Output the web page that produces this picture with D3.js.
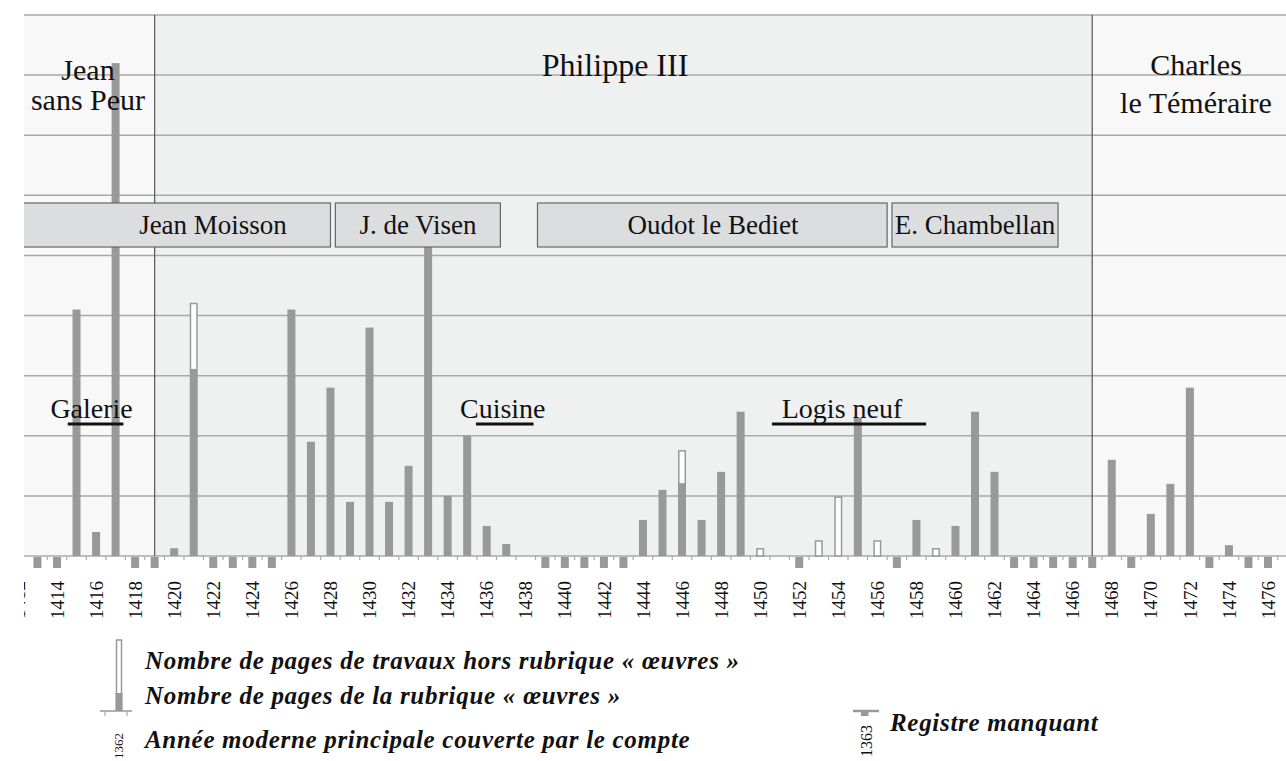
<!DOCTYPE html>
<html>
<head>
<meta charset="utf-8">
<script src="https://cdn.jsdelivr.net/npm/d3@7"></script>
<style>
  body { margin: 0; background: #fff; }
  svg text { font-family: "Liberation Serif", "DejaVu Serif", serif; fill: #111; }
</style>
</head>
<body>
<script>
// years shown on the axis
var years = [1413, 1414, 1415, 1416, 1417, 1418, 1419, 1420, 1421, 1422, 1423, 1424, 1425,
  1426, 1427, 1428, 1429, 1430, 1431, 1432, 1433, 1434, 1435, 1436, 1437, 1438, 1439,
  1440, 1441, 1442, 1443, 1444, 1445, 1446, 1447, 1448, 1449, 1450, 1451, 1452, 1453,
  1454, 1455, 1456, 1457, 1458, 1459, 1460, 1461, 1462, 1463, 1464, 1465, 1466, 1467,
  1468, 1469, 1470, 1471, 1472, 1473, 1474, 1475, 1476];

// pages of the "oeuvres" section (null = register missing)
var oeuvres = [null, null, 41, 4, 82, null, null, 1.3, 31, null, null, null, null,
  41, 19, 28, 9, 38, 9, 15, 52, 10, 20, 5, 2, 0, null,
  null, null, null, null, 6, 11, 12, 6, 14, 24, 0, 0, null, 0,
  0, 23, 0, null, 6, 0, 5, 24, 14, null, null, null, null, null,
  16, null, 7, 12, 28, null, 1.8, null, null];

// pages of works outside the "oeuvres" section
var horsRubrique = [0, 0, 0, 0, 0, 0, 0, 0, 11, 0, 0, 0, 0,
  0, 0, 0, 0, 0, 0, 0, 0, 0, 0, 0, 0, 0, 0,
  0, 0, 0, 0, 0, 0, 5.5, 0, 0, 0, 1.2, 0, 0, 2.5,
  9.8, 0, 2.5, 0, 0, 1.2, 0, 0, 0, 0, 0, 0, 0, 0,
  0, 0, 0, 0, 0, 0, 0, 0, 0];

var tickYears = [1412, 1414, 1416, 1418, 1420, 1422, 1424, 1426, 1428, 1430, 1432, 1434,
  1436, 1438, 1440, 1442, 1444, 1446, 1448, 1450, 1452, 1454, 1456, 1458, 1460, 1462,
  1464, 1466, 1468, 1470, 1472, 1474, 1476];

var reignNames = [["Jean", "sans Peur"], ["Philippe III"], ["Charles", "le Téméraire"]];
var reignStart = [1410, 1419, 1467];
var reignEnd = [1419, 1467, 1480];

var officers = ["Jean Moisson", "J. de Visen", "Oudot le Bediet", "E. Chambellan"];
var officerStart = [1410, 1428.25, 1438.6, 1456.75];
var officerEnd = [1428, 1436.7, 1456.5, 1465.25];

var works = ["Galerie", "Cuisine", "Logis neuf"];
var workStart = [1414.55, 1435.45, 1450.6];
var workEnd = [1417.4, 1438.4, 1458.5];

var W = 1286, H = 761;
var plotLeft = 24, plotTop = 15, base = 556;

var svg = d3.select("body").append("svg")
  .attr("width", W)
  .attr("height", H);

var x = d3.scaleLinear().domain([1414, 1476]).range([57, 1268]);
var y = d3.scaleLinear().domain([0, 90]).range([base, plotTop]);
var barW = 8;

svg.append("clipPath").attr("id", "plot")
  .append("rect").attr("x", plotLeft).attr("y", 0).attr("width", W - plotLeft).attr("height", H);

var plot = svg.append("g").attr("clip-path", "url(#plot)");

// reign panels
var bg = ["#f8f8f8", "#eff1f1", "#f8f8f8"];
plot.selectAll("rect.reign")
  .data(reignStart)
  .enter().append("rect")
  .attr("class", "reign")
  .attr("x", function (d) { return x(d); })
  .attr("y", plotTop)
  .attr("width", function (d, i) { return x(reignEnd[i]) - x(d); })
  .attr("height", base - plotTop)
  .style("fill", function (d, i) { return bg[i]; });

// horizontal grid
plot.selectAll("line.grid")
  .data(y.ticks(9))
  .enter().append("line")
  .attr("class", "grid")
  .attr("x1", plotLeft).attr("x2", W)
  .attr("y1", function (d) { return y(d); })
  .attr("y2", function (d) { return y(d); })
  .style("stroke", "#a9a9a9")
  .style("stroke-width", 1.5);

// reign dividers
plot.selectAll("line.div")
  .data(reignStart.slice(1))
  .enter().append("line")
  .attr("class", "div")
  .attr("x1", function (d) { return x(d); })
  .attr("x2", function (d) { return x(d); })
  .attr("y1", plotTop).attr("y2", base)
  .style("stroke", "#555")
  .style("stroke-width", 1.2);

// year ticks
plot.selectAll("line.tick")
  .data(years)
  .enter().append("line")
  .attr("class", "tick")
  .attr("x1", function (d) { return x(d + 0.5); })
  .attr("x2", function (d) { return x(d + 0.5); })
  .attr("y1", base).attr("y2", base + 4)
  .style("stroke", "#aaa")
  .style("stroke-width", 1.2);

// bars: oeuvres
plot.selectAll("rect.bar")
  .data(years)
  .enter().append("rect")
  .attr("class", "bar")
  .attr("x", function (d) { return x(d) - barW / 2; })
  .attr("y", function (d, i) { return y(oeuvres[i] || 0); })
  .attr("width", barW)
  .attr("height", function (d, i) { return base - y(oeuvres[i] || 0); })
  .style("fill", "#999");

// bars: hors rubrique (outlined, stacked)
var extra = years.filter(function (d, i) { return horsRubrique[i] > 0; });
plot.selectAll("rect.extra")
  .data(extra)
  .enter().append("rect")
  .attr("class", "extra")
  .attr("x", function (d) { return x(d) - barW / 2 + 0.75; })
  .attr("y", function (d) { var i = years.indexOf(d); return y((oeuvres[i] || 0) + horsRubrique[i]); })
  .attr("width", barW - 1.5)
  .attr("height", function (d) { var i = years.indexOf(d); return y(oeuvres[i] || 0) - y((oeuvres[i] || 0) + horsRubrique[i]); })
  .style("fill", "#fff")
  .style("stroke", "#999")
  .style("stroke-width", 1.5);

// missing registers
var missing = years.filter(function (d, i) { return oeuvres[i] === null; });
plot.selectAll("rect.miss")
  .data(missing)
  .enter().append("rect")
  .attr("class", "miss")
  .attr("x", function (d) { return x(d) - barW / 2; })
  .attr("y", base + 1)
  .attr("width", barW)
  .attr("height", 11)
  .style("fill", "#999");

// officers boxes
var offG = plot.selectAll("g.off")
  .data(officers)
  .enter().append("g")
  .attr("class", "off");
offG.append("rect")
  .attr("x", function (d, i) { return x(officerStart[i]); })
  .attr("y", 203)
  .attr("width", function (d, i) { return x(officerEnd[i]) - x(officerStart[i]); })
  .attr("height", 44)
  .style("fill", "#dcdddf")
  .style("stroke", "#666")
  .style("stroke-width", 1.2);
var offLabelX = [213, 418, 713, 975];
offG.append("text")
  .attr("x", function (d, i) { return offLabelX[i]; })
  .attr("y", 234)
  .attr("text-anchor", "middle")
  .style("font-size", "27px")
  .text(function (d) { return d; });

// reign labels
var reignLabelX = [88, 615, 1196];
var reignLineY = [[80, 110], [76], [75, 113]];
reignNames.forEach(function (lines, i) {
  var sz = lines.length == 1 ? 32 : 30;
  lines.forEach(function (t, j) {
    plot.append("text")
      .attr("x", reignLabelX[i])
      .attr("y", reignLineY[i][j])
      .attr("text-anchor", "middle")
      .style("font-size", sz + "px")
      .text(t);
  });
});

// works (building campaigns)
var workLabelDx = [-4, -2, -7];
works.forEach(function (w, i) {
  plot.append("line")
    .attr("x1", x(workStart[i])).attr("x2", x(workEnd[i]))
    .attr("y1", 424).attr("y2", 424)
    .style("stroke", "#111")
    .style("stroke-width", 3);
  plot.append("text")
    .attr("x", (x(workStart[i]) + x(workEnd[i])) / 2 + workLabelDx[i])
    .attr("y", 418)
    .attr("text-anchor", "middle")
    .style("font-size", "28px")
    .text(w);
});

// year labels
plot.selectAll("text.year")
  .data(tickYears)
  .enter().append("text")
  .attr("class", "year")
  .attr("transform", function (d) { return "translate(" + x(d) + ",581) rotate(-90)"; })
  .attr("dy", "0.35em")
  .attr("text-anchor", "end")
  .style("font-size", "19px")
  .text(function (d) { return d; });

// legend
var lg = svg.append("g");
lg.append("rect").attr("x", 116.5).attr("y", 640).attr("width", 5).attr("height", 70)
  .style("fill", "#fff").style("stroke", "#999").style("stroke-width", 1.5);
lg.append("rect").attr("x", 115.5).attr("y", 693).attr("width", 7).attr("height", 18)
  .style("fill", "#999");
lg.append("line").attr("x1", 100).attr("x2", 132).attr("y1", 711).attr("y2", 711)
  .style("stroke", "#999").style("stroke-width", 1.5);
[105, 127].forEach(function (tx) {
  lg.append("line").attr("x1", tx).attr("x2", tx).attr("y1", 711).attr("y2", 716)
    .style("stroke", "#aaa").style("stroke-width", 1.2);
});
lg.append("text")
  .attr("transform", "translate(118,733) rotate(-90)")
  .attr("dy", "0.35em").attr("text-anchor", "end")
  .style("font-size", "13px").text("1362");

lg.append("line").attr("x1", 853).attr("x2", 879).attr("y1", 711).attr("y2", 711)
  .style("stroke", "#999").style("stroke-width", 2.5);
lg.append("rect").attr("x", 861).attr("y", 711).attr("width", 7.5).attr("height", 5)
  .style("fill", "#999");
lg.append("text")
  .attr("transform", "translate(866,725) rotate(-90)")
  .attr("dy", "0.35em").attr("text-anchor", "end")
  .style("font-size", "16px").text("1363");

var legendText = [
  ["Nombre de pages de travaux hors rubrique « œuvres »", 145, 669],
  ["Nombre de pages de la rubrique « œuvres »", 145, 704],
  ["Année moderne principale couverte par le compte", 145, 748],
  ["Registre manquant", 890, 731]
];
lg.selectAll("text.leg")
  .data(legendText)
  .enter().append("text")
  .attr("class", "leg")
  .attr("x", function (d) { return d[1]; })
  .attr("y", function (d) { return d[2]; })
  .style("font-size", "25px")
  .style("font-style", "italic")
  .style("font-weight", "bold")
  .style("letter-spacing", "0.7px")
  .text(function (d) { return d[0]; });
</script>
</body>
</html>
